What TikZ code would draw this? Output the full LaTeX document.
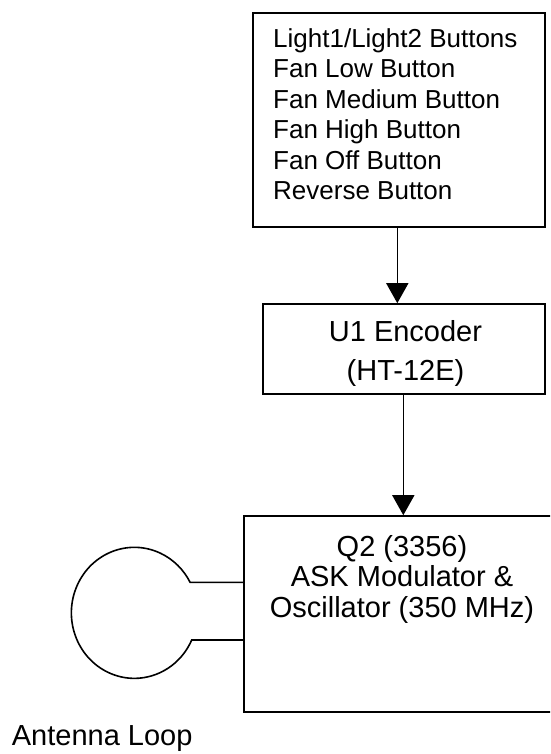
\documentclass[tikz,border=0pt]{standalone}
\usepackage{fontspec}
\setmainfont{Liberation Sans}
\usetikzlibrary{arrows.meta}
\begin{document}
\begin{tikzpicture}[x=1pt,y=-1pt,
  box/.style={draw=black, line width=1.6pt, rectangle, inner sep=0pt, fill=white},
  lbl/.style={inner sep=0pt, font=\fontsize{29}{35}\selectfont},
  small/.style={inner sep=0pt, font=\fontsize{26}{31}\selectfont, anchor=base west},
  arr/.style={line width=1.6pt, -{Triangle[length=20pt,width=22pt]}},
  wire/.style={line width=1.6pt}]
\clip (0,0) rectangle (550,754);
\fill[white] (0,0) rectangle (550,754);
% boxes
\node[box, minimum width=292pt, minimum height=214pt] (top) at (399,120) {};
\node[box, minimum width=282pt, minimum height=90pt] (mid) at (404,349) {};
\node[box, minimum width=316pt, minimum height=196pt] (bot) at (402,614) {};
% top box text
\node[small] (t1) at (273,47.3) {Light1/Light2 Buttons};
\node[small] (t2) at (273,77.8) {Fan Low Button};
\node[small] (t3) at (273,108.3) {Fan Medium Button};
\node[small] (t4) at (273,138.8) {Fan High Button};
\node[small] (t5) at (273,169.3) {Fan Off Button};
\node[small] (t6) at (273,199.8) {Reverse Button};
% middle box text
\node[lbl, anchor=base] (m1) at (405.5,341.7) {U1 Encoder};
\node[lbl, anchor=base] (m2) at (405.5,380.5) {(HT-12E)};
% bottom box text
\node[lbl, anchor=base] (b1) at (402,556) {Q2 (3356)};
\node[lbl, anchor=base] (b2) at (402,586.5) {ASK Modulator \&};
\node[lbl, anchor=base] (b3) at (402,617) {Oscillator (350 MHz)};
% antenna label
\node[lbl, anchor=base west] (ant) at (11.7,745) {Antenna Loop};
% connectors
\draw[arr] ([xshift=-1.7pt]top.south) -- ([xshift=-1.7pt]top.south |- mid.north);
\draw[arr] ([xshift=-0.7pt]mid.south) -- ([xshift=-0.7pt]mid.south |- bot.north);
% antenna loop
\coordinate (a1) at (190.2,582.3);
\coordinate (a2) at (191.7,640);
\draw[wire] (bot.west |- a2) -- (a2) arc[start angle=24.5, end angle=332.3, x radius=63, y radius=65.5] -- (bot.west |- a1);
\end{tikzpicture}
\end{document}
